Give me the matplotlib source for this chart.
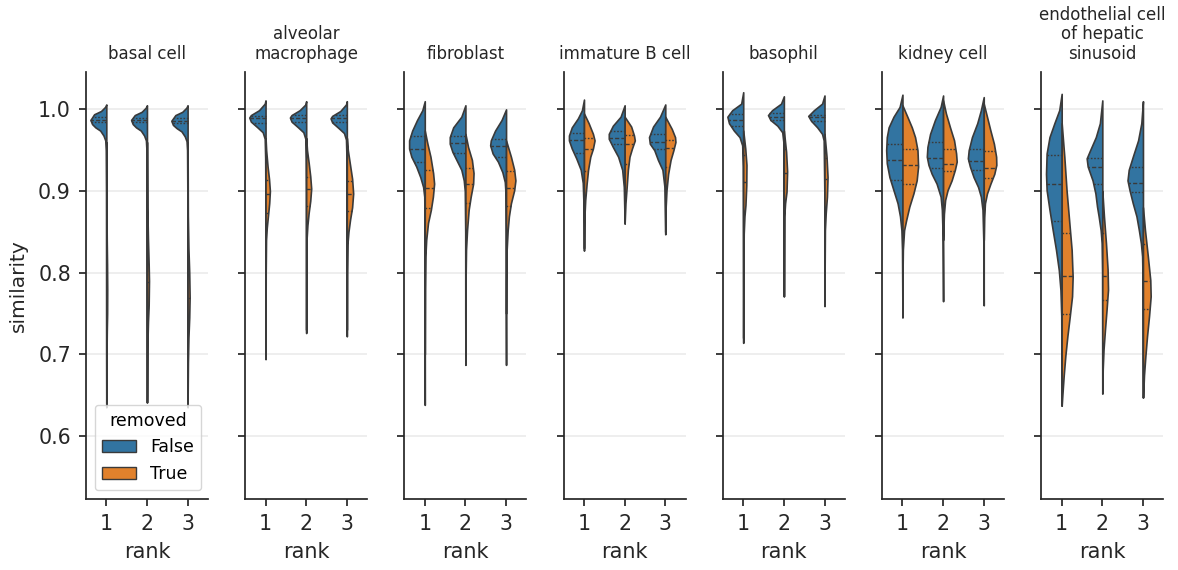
import numpy as np
import matplotlib
matplotlib.use("Agg")
import matplotlib.pyplot as plt
from matplotlib.patches import Patch

# facet titles, x categories and hue levels
cell_types = ["basal cell", "alveolar\nmacrophage", "fibroblast", "immature B cell",
              "basophil", "kidney cell", "endothelial cell\nof hepatic\nsinusoid"]
ranks = ["1", "2", "3"]
removed_levels = ["False", "True"]
palette = ["#3274a1", "#e1812c"]
y_ticks = [0.6, 0.7, 0.8, 0.9, 1.0]

# half-violin outlines: (similarity, half width) per rank
# quartiles: (q1, median, q3) per rank
basal_false = [
    [(1.006, 0), (1.003, 0.03), (0.998, 0.13), (0.994, 0.30), (0.987, 0.39), (0.982, 0.35), (0.978, 0.27),
     (0.974, 0.15), (0.968, 0.07), (0.962, 0.025), (0.95, 0.012), (0.90, 0.006), (0.80, 0.004), (0.70, 0.003), (0.635, 0)],
    [(1.005, 0), (1.002, 0.03), (0.997, 0.13), (0.993, 0.30), (0.987, 0.39), (0.982, 0.35), (0.978, 0.27),
     (0.974, 0.15), (0.968, 0.07), (0.962, 0.025), (0.95, 0.012), (0.90, 0.006), (0.80, 0.004), (0.70, 0.003), (0.641, 0)],
    [(1.005, 0), (1.002, 0.03), (0.997, 0.13), (0.993, 0.30), (0.986, 0.40), (0.981, 0.36), (0.977, 0.27),
     (0.973, 0.15), (0.967, 0.07), (0.961, 0.025), (0.95, 0.012), (0.90, 0.006), (0.80, 0.004), (0.70, 0.003), (0.635, 0)],
]
basal_true = [
    [(0.96, 0), (0.88, 0.004), (0.84, 0.01), (0.81, 0.018), (0.78, 0.022), (0.75, 0.02), (0.73, 0.012), (0.70, 0.005), (0.64, 0)],
    [(0.96, 0), (0.88, 0.008), (0.84, 0.025), (0.81, 0.042), (0.79, 0.05), (0.76, 0.042), (0.74, 0.025), (0.71, 0.01),
     (0.65, 0.003), (0.641, 0)],
    [(0.96, 0), (0.87, 0.006), (0.83, 0.02), (0.80, 0.04), (0.77, 0.05), (0.745, 0.04), (0.72, 0.02), (0.69, 0.008), (0.64, 0)],
]
basal_quart_false = [(0.984, 0.987, 0.991), (0.984, 0.987, 0.990), (0.983, 0.986, 0.990)]
basal_quart_true = [(0.755, 0.777, 0.800), (0.757, 0.788, 0.810), (0.737, 0.769, 0.800)]

alveolar_false = [
    [(1.011, 0), (1.007, 0.02), (0.999, 0.16), (0.993, 0.36), (0.990, 0.40), (0.985, 0.36), (0.978, 0.2), (0.972, 0.07),
     (0.964, 0.02), (0.94, 0.008), (0.90, 0.004), (0.80, 0.003), (0.694, 0)],
    [(1.010, 0), (1.006, 0.02), (0.999, 0.16), (0.993, 0.36), (0.990, 0.40), (0.985, 0.36), (0.978, 0.2), (0.972, 0.07),
     (0.964, 0.02), (0.94, 0.008), (0.90, 0.004), (0.80, 0.003), (0.726, 0)],
    [(1.010, 0), (1.006, 0.02), (0.998, 0.16), (0.992, 0.36), (0.989, 0.40), (0.984, 0.36), (0.977, 0.2), (0.971, 0.07),
     (0.963, 0.02), (0.94, 0.008), (0.90, 0.004), (0.80, 0.003), (0.722, 0)],
]
alveolar_true = [
    [(0.965, 0), (0.95, 0.015), (0.93, 0.05), (0.915, 0.085), (0.90, 0.107), (0.885, 0.09), (0.87, 0.06), (0.855, 0.03),
     (0.84, 0.012), (0.80, 0.004), (0.70, 0)],
    [(0.965, 0), (0.95, 0.02), (0.935, 0.06), (0.918, 0.10), (0.903, 0.123), (0.888, 0.10), (0.873, 0.06), (0.858, 0.03),
     (0.843, 0.012), (0.80, 0.004), (0.73, 0)],
    [(0.965, 0), (0.95, 0.025), (0.935, 0.07), (0.915, 0.13), (0.897, 0.156), (0.88, 0.13), (0.865, 0.08), (0.85, 0.04),
     (0.835, 0.015), (0.80, 0.004), (0.73, 0)],
]
alveolar_quart_false = [(0.983, 0.989, 0.992), (0.985, 0.989, 0.993), (0.985, 0.989, 0.993)]
alveolar_quart_true = [(0.873, 0.896, 0.914), (0.882, 0.902, 0.917), (0.876, 0.896, 0.912)]

fibroblast_false = [
    [(1.010, 0), (0.999, 0.06), (0.987, 0.19), (0.974, 0.31), (0.962, 0.385), (0.952, 0.385), (0.942, 0.33), (0.930, 0.21),
     (0.917, 0.11), (0.905, 0.04), (0.893, 0.012), (0.85, 0.004), (0.75, 0.003), (0.638, 0)],
    [(1.005, 0), (0.991, 0.10), (0.978, 0.30), (0.966, 0.385), (0.958, 0.385), (0.948, 0.32), (0.938, 0.22), (0.926, 0.10),
     (0.913, 0.04), (0.90, 0.015), (0.85, 0.004), (0.75, 0.003), (0.687, 0)],
    [(1.000, 0), (0.987, 0.11), (0.974, 0.27), (0.962, 0.375), (0.956, 0.39), (0.946, 0.33), (0.936, 0.2), (0.923, 0.09),
     (0.911, 0.03), (0.895, 0.01), (0.85, 0.004), (0.75, 0.003), (0.687, 0)],
]
fibroblast_true = [
    [(0.974, 0), (0.958, 0.065), (0.942, 0.14), (0.922, 0.205), (0.909, 0.23), (0.893, 0.20), (0.877, 0.15), (0.861, 0.08),
     (0.84, 0.035), (0.82, 0.015), (0.78, 0.005), (0.70, 0)],
    [(0.97, 0), (0.954, 0.065), (0.938, 0.16), (0.922, 0.20), (0.909, 0.19), (0.893, 0.13), (0.877, 0.08), (0.852, 0.04),
     (0.828, 0.015), (0.79, 0.004), (0.75, 0)],
    [(0.962, 0), (0.942, 0.12), (0.926, 0.20), (0.913, 0.23), (0.901, 0.20), (0.885, 0.12), (0.869, 0.07), (0.852, 0.04),
     (0.828, 0.015), (0.79, 0.004), (0.75, 0)],
]
fibroblast_quart_false = [(0.936, 0.951, 0.967), (0.946, 0.959, 0.967), (0.942, 0.955, 0.964)]
fibroblast_quart_true = [(0.879, 0.904, 0.926), (0.885, 0.909, 0.928), (0.882, 0.904, 0.924)]

immature_b_false = [
    [(1.012, 0), (0.999, 0.05), (0.989, 0.15), (0.978, 0.30), (0.968, 0.37), (0.962, 0.37), (0.952, 0.30), (0.940, 0.19),
     (0.926, 0.08), (0.910, 0.03), (0.88, 0.01), (0.827, 0)],
    [(1.005, 0), (0.991, 0.10), (0.980, 0.29), (0.970, 0.39), (0.964, 0.39), (0.954, 0.29), (0.942, 0.16), (0.926, 0.06),
     (0.905, 0.02), (0.861, 0)],
    [(1.006, 0), (0.991, 0.13), (0.979, 0.30), (0.966, 0.40), (0.958, 0.38), (0.950, 0.27), (0.938, 0.18), (0.926, 0.07),
     (0.905, 0.02), (0.847, 0)],
]
immature_b_true = [
    [(0.995, 0), (0.983, 0.115), (0.970, 0.22), (0.962, 0.26), (0.952, 0.22), (0.942, 0.155), (0.926, 0.10), (0.909, 0.065),
     (0.889, 0.03), (0.868, 0.01), (0.83, 0)],
    [(0.991, 0), (0.979, 0.16), (0.968, 0.23), (0.962, 0.25), (0.952, 0.18), (0.942, 0.12), (0.926, 0.08), (0.905, 0.05),
     (0.885, 0.02), (0.86, 0)],
    [(0.991, 0), (0.976, 0.16), (0.966, 0.24), (0.960, 0.25), (0.950, 0.20), (0.938, 0.13), (0.921, 0.07), (0.901, 0.03),
     (0.881, 0.01), (0.85, 0)],
]
immature_b_quart_false = [(0.946, 0.962, 0.971), (0.957, 0.965, 0.974), (0.951, 0.960, 0.970)]
immature_b_quart_true = [(0.924, 0.951, 0.965), (0.933, 0.957, 0.968), (0.929, 0.953, 0.963)]

basophil_false = [
    [(1.021, 0), (1.007, 0.05), (0.999, 0.27), (0.991, 0.39), (0.983, 0.35), (0.974, 0.23), (0.966, 0.09), (0.956, 0.025),
     (0.93, 0.008), (0.85, 0.004), (0.714, 0)],
    [(1.016, 0), (1.007, 0.07), (0.999, 0.29), (0.993, 0.39), (0.987, 0.33), (0.980, 0.16), (0.972, 0.04), (0.96, 0.012),
     (0.90, 0.004), (0.771, 0)],
    [(1.017, 0), (1.007, 0.06), (0.999, 0.26), (0.992, 0.40), (0.986, 0.33), (0.978, 0.18), (0.970, 0.06), (0.962, 0.02),
     (0.90, 0.004), (0.759, 0)],
]
basophil_true = [
    [(0.974, 0), (0.952, 0.05), (0.932, 0.08), (0.907, 0.075), (0.883, 0.055), (0.869, 0.03), (0.848, 0.012), (0.80, 0.004),
     (0.72, 0)],
    [(0.974, 0), (0.948, 0.055), (0.924, 0.08), (0.899, 0.065), (0.885, 0.03), (0.869, 0.01), (0.80, 0.003), (0.771, 0)],
    [(0.970, 0), (0.942, 0.05), (0.917, 0.075), (0.893, 0.06), (0.873, 0.03), (0.852, 0.01), (0.80, 0.003), (0.76, 0)],
]
basophil_quart_false = [(0.980, 0.987, 0.994), (0.987, 0.991, 0.995), (0.986, 0.991, 0.993)]
basophil_quart_true = [(0.869, 0.911, 0.944), (0.889, 0.922, 0.952), (0.880, 0.915, 0.941)]

kidney_false = [
    [(1.018, 0), (1.003, 0.07), (0.991, 0.22), (0.978, 0.34), (0.966, 0.385), (0.950, 0.40), (0.934, 0.385), (0.917, 0.32),
     (0.901, 0.22), (0.885, 0.12), (0.869, 0.06), (0.852, 0.025), (0.828, 0.01), (0.78, 0.004), (0.745, 0)],
    [(1.017, 0), (1.003, 0.06), (0.987, 0.20), (0.970, 0.32), (0.954, 0.385), (0.942, 0.40), (0.932, 0.36), (0.921, 0.28),
     (0.909, 0.16), (0.893, 0.06), (0.877, 0.03), (0.844, 0.01), (0.80, 0.004), (0.765, 0)],
    [(1.015, 0), (0.999, 0.07), (0.983, 0.16), (0.966, 0.29), (0.950, 0.37), (0.940, 0.39), (0.930, 0.34), (0.917, 0.25),
     (0.905, 0.14), (0.893, 0.07), (0.877, 0.03), (0.840, 0.01), (0.80, 0.004), (0.760, 0)],
]
kidney_true = [
    [(1.005, 0), (0.991, 0.12), (0.978, 0.23), (0.966, 0.31), (0.950, 0.37), (0.930, 0.385), (0.913, 0.35), (0.897, 0.27),
     (0.881, 0.17), (0.864, 0.09), (0.852, 0.04), (0.828, 0.01), (0.79, 0)],
    [(1.011, 0), (0.995, 0.07), (0.978, 0.17), (0.962, 0.27), (0.946, 0.32), (0.936, 0.335), (0.926, 0.29), (0.913, 0.21),
     (0.901, 0.11), (0.889, 0.05), (0.872, 0.02), (0.84, 0)],
    [(1.007, 0), (0.991, 0.08), (0.974, 0.165), (0.958, 0.25), (0.942, 0.305), (0.932, 0.31), (0.921, 0.26), (0.909, 0.165),
     (0.897, 0.08), (0.885, 0.03), (0.868, 0.01), (0.84, 0)],
]
kidney_quart_false = [(0.914, 0.938, 0.958), (0.928, 0.941, 0.960), (0.926, 0.937, 0.951)]
kidney_quart_true = [(0.909, 0.932, 0.951), (0.924, 0.933, 0.951), (0.916, 0.928, 0.949)]

endothelial_false = [
    [(1.019, 0), (0.999, 0.06), (0.983, 0.18), (0.966, 0.30), (0.946, 0.37), (0.921, 0.385), (0.901, 0.37), (0.877, 0.30),
     (0.852, 0.22), (0.828, 0.14), (0.803, 0.07), (0.779, 0.03), (0.747, 0.01), (0.637, 0)],
    [(1.011, 0), (0.983, 0.06), (0.966, 0.16), (0.950, 0.30), (0.940, 0.385), (0.930, 0.36), (0.913, 0.24), (0.897, 0.17),
     (0.881, 0.13), (0.869, 0.09), (0.852, 0.04), (0.836, 0.015), (0.80, 0.004), (0.652, 0)],
    [(1.010, 0), (0.983, 0.04), (0.962, 0.12), (0.942, 0.25), (0.926, 0.35), (0.913, 0.38), (0.901, 0.33), (0.885, 0.25),
     (0.869, 0.16), (0.852, 0.10), (0.836, 0.05), (0.820, 0.02), (0.78, 0.005), (0.647, 0)],
]
endothelial_true = [
    [(0.983, 0), (0.942, 0.065), (0.901, 0.12), (0.860, 0.19), (0.828, 0.245), (0.795, 0.27), (0.771, 0.255), (0.747, 0.20),
     (0.722, 0.14), (0.698, 0.09), (0.674, 0.05), (0.649, 0.015), (0.637, 0)],
    [(0.90, 0), (0.869, 0.04), (0.836, 0.09), (0.804, 0.13), (0.779, 0.14), (0.755, 0.105), (0.730, 0.065), (0.706, 0.03),
     (0.682, 0.01), (0.652, 0)],
    [(0.88, 0), (0.852, 0.05), (0.820, 0.12), (0.791, 0.18), (0.771, 0.19), (0.747, 0.15), (0.722, 0.10), (0.698, 0.06),
     (0.674, 0.025), (0.649, 0.005), (0.647, 0)],
]
endothelial_quart_false = [(0.863, 0.908, 0.944), (0.909, 0.930, 0.940), (0.899, 0.910, 0.930)]
endothelial_quart_true = [(0.749, 0.796, 0.848), (0.766, 0.796, 0.848), (0.755, 0.790, 0.835)]

panels = [
    (basal_false, basal_true, basal_quart_false, basal_quart_true),
    (alveolar_false, alveolar_true, alveolar_quart_false, alveolar_quart_true),
    (fibroblast_false, fibroblast_true, fibroblast_quart_false, fibroblast_quart_true),
    (immature_b_false, immature_b_true, immature_b_quart_false, immature_b_quart_true),
    (basophil_false, basophil_true, basophil_quart_false, basophil_quart_true),
    (kidney_false, kidney_true, kidney_quart_false, kidney_quart_true),
    (endothelial_false, endothelial_true, endothelial_quart_false, endothelial_quart_true),
]

edge = "#3a3a3a"
text_color = "#262626"


def half_violin(ax, pos, outline, quarts, side, color):
    arr = np.array(outline, dtype=float)
    y, w = arr[:, 0], arr[:, 1]
    ax.fill_betweenx(y, pos, pos + side * w, facecolor=color, edgecolor=edge,
                     linewidth=1.2, joinstyle="round", zorder=2)
    order = np.argsort(y)
    for q, ls in zip(quarts, [(0, (1.2, 1.2)), (0, (3, 1.5)), (0, (1.2, 1.2))]):
        qw = np.interp(q, y[order], w[order])
        ax.plot([pos, pos + side * qw], [q, q], color=edge, lw=1.0, linestyle=ls, zorder=3)


fig, axes = plt.subplots(1, len(cell_types), figsize=(11.78, 5.70), dpi=100, sharey=True)
fig.subplots_adjust(left=0.073, right=0.9875, bottom=0.125, top=0.874, wspace=0.306)

for ax, title, (shp_f, shp_t, qf, qt) in zip(axes, cell_types, panels):
    for i in range(len(ranks)):
        half_violin(ax, i, shp_f[i], qf[i], -1, palette[0])
        half_violin(ax, i, shp_t[i], qt[i], 1, palette[1])
    ax.set_xlim(-0.5, 2.5)
    ax.set_ylim(0.523, 1.046)
    ax.set_xticks(range(len(ranks)))
    ax.set_xticklabels(ranks)
    ax.set_yticks(y_ticks)
    ax.yaxis.grid(True, color="#ebebeb", lw=1.2, zorder=0)
    ax.set_axisbelow(True)
    for s in ["top", "right"]:
        ax.spines[s].set_visible(False)
    for s in ["left", "bottom"]:
        ax.spines[s].set_color(text_color)
        ax.spines[s].set_linewidth(1.25)
    ax.tick_params(labelsize=14.8, length=5, width=1.25, pad=5.8, color=text_color, labelcolor=text_color)
    ax.set_xlabel("rank", fontsize=15, color=text_color, labelpad=6)
    ax.set_title(title, fontsize=12, color=text_color, pad=9.5, linespacing=1.1)

axes[0].set_yticklabels([f"{t:.1f}" for t in y_ticks])
axes[0].set_ylabel("similarity", fontsize=14.5, color=text_color, labelpad=7)

handles = [Patch(facecolor=c, edgecolor=edge, linewidth=1.0, label=l) for c, l in zip(palette, removed_levels)]
leg = axes[0].legend(handles=handles, title="removed", loc="lower left", fontsize=12.5,
                     title_fontsize=12.5, frameon=True, borderaxespad=0.5)
leg.get_frame().set_edgecolor("#cccccc")

fig.savefig("out.png", dpi=100)
